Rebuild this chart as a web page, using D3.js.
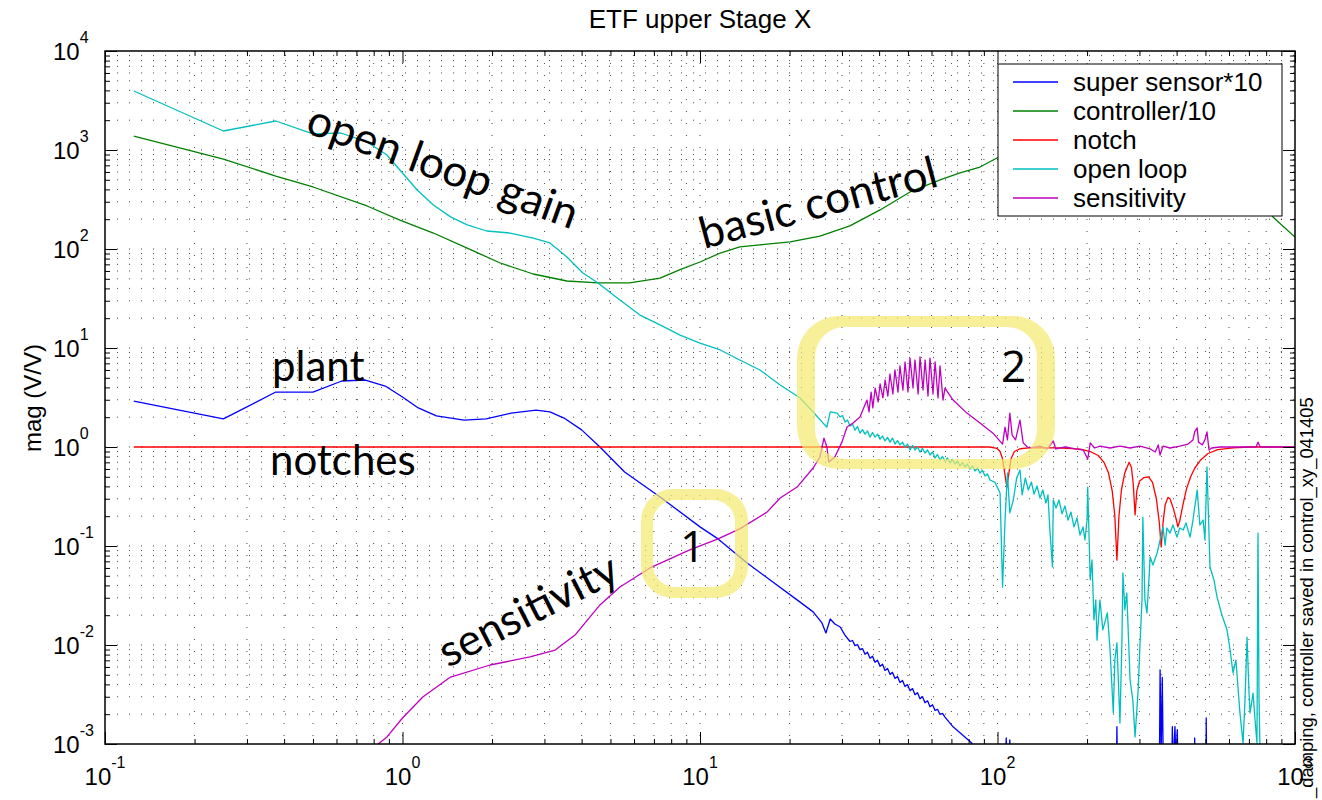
<!DOCTYPE html>
<html>
<head>
<meta charset="utf-8">
<script src="https://cdn.jsdelivr.net/npm/d3@7"></script>
<style>
  html, body { margin: 0; padding: 0; background: #fff; }
  svg { display: block; }
</style>
</head>
<body>
<svg id="chart" width="1322" height="800"></svg>
<script>
// ---- data: [frequency (Hz), magnitude (V/V)] ----
const xTickExponents = [-1, 0, 1, 2, 3];
const yTickExponents = [-3, -2, -1, 0, 1, 2, 3, 4];
const seriesNames = ["super sensor*10", "controller/10", "notch", "open loop", "sensitivity"];

const superSensor = [[0.125,2.91],[0.25,1.92],[0.375,3.59],[0.5,3.59],[0.625,4.64],[0.75,4.75],[0.875,4.13],[1.0,3.20],[1.13,2.48],[1.30,2.06],[1.61,1.87],[1.91,1.92],[2.32,2.20],[2.81,2.36],[3.13,2.26],[3.49,1.96],[4.0,1.49],[4.61,1.0],[5.58,0.559],[7.34,0.313],[10,0.156],[11.5,0.118],[14.4,0.0673],[21.7,0.0271],[24.0,0.0216],[25.7,0.0167],[26.5,0.0132],[27.4,0.0183],[28.4,0.0163],[29.6,0.0152],[30.7,0.0126],
  [31.93,0.01085],[32.55,0.01110],[33.19,0.00986],[33.84,0.01009],[34.50,0.00898],[35.17,0.00920],[35.86,0.00807],[36.56,0.00846],[37.28,0.00736],[38.01,0.00770],[38.75,0.00669],[39.51,0.00701],[40.28,0.00609],[41.07,0.00639],[41.87,0.00554],[42.69,0.00580],[43.52,0.00505],[44.37,0.00529],[45.24,0.00459],[46.12,0.00481],[47.02,0.00418],[47.94,0.00438],[48.88,0.00380],[49.83,0.00398],[50.81,0.00346],[51.80,0.00363],[52.81,0.00315],[53.84,0.00330],[54.90,0.00287],[55.97,0.00300],[57.06,0.00261],[58.18,0.00273],[59.31,0.00238],[60.47,0.00249],[61.65,0.00219],[62.86,0.00224],[64.09,0.00199],[65.34,0.00204],[66.61,0.00187],
  [70.9,0.00149],[82.1,0.00102],[84,0.0005],[106,0.0005],[107,0.00115],[108,0.0005],[110,0.0011],[111,0.0005],[251,0.0005],[252,0.0015],[253,0.0005],[350,0.0005],[352,0.0056],[355,0.0008],[358,0.0047],[361,0.0005],[385,0.0005],[387,0.0015],[389,0.0006],[395,0.0015],[398,0.0006],[402,0.0014],[405,0.0005],[459,0.0005],[460,0.00115],[461,0.0005],[502,0.0005],[503,0.00183],[505,0.0005],[1000,0.0005]];

const controller = [[0.125,1384],[0.25,811],[0.375,546],[0.5,423],[0.76,272],[0.98,196],[1.27,145],[1.65,102],[2.13,72.2],[2.75,55.9],[3.57,47.5],[4.54,45.4],[5.8,45.4],[7.34,50.9],[8.57,62],[10,73.9],[11.7,91.1],[13.6,105],[15.9,110],[20.1,118],[25.3,135],[31.9,171],[40.3,248],[50.8,377],[64.1,498],[74.8,586],[87.3,673],[99.6,830],[150,1600],[221,2260],[326,2260],[480,1700],[706,498],[843,211],[1000,132]];

const notch = [[0.125,1],[94,1],[99.6,0.97],[102,0.9],[104,0.76],[106,0.52],[107.5,0.39],[109,0.52],[111,0.76],[114,0.9],[119,0.96],[130,0.985],[160,0.98],[190,0.95],[205,0.9],[218,0.82],[228,0.7],[236,0.55],[243,0.36],[248,0.2],[252,0.072],[256,0.2],[261,0.37],[268,0.55],[277,0.70],[282,0.62],[286,0.42],[290,0.206],[294,0.36],[300,0.45],[310,0.49],[322,0.5],[332,0.44],[342,0.3],[350,0.17],[355,0.098],[360,0.17],[366,0.26],[374,0.31],[380,0.3],[390,0.24],[398,0.19],[404,0.156],[410,0.18],[420,0.26],[432,0.38],[446,0.5],[460,0.61],[480,0.73],[510,0.86],[550,0.94],[620,0.98],[700,1],[1000,1]];

const openLoop = [[0.125,3945],[0.25,1556],[0.375,1963],[0.5,1452],[0.62,1485],[0.76,1205],[0.887,890],[0.98,628],[1.12,394],[1.27,278],[1.45,211],[1.65,175],[1.92,152],[2.30,145],[2.75,129],[3.13,115],[3.57,83.0],[4.04,57.2],[4.54,45.4],[5.38,30.5],[6.28,21.5],[7.34,17.1],[8.57,13.5],[10,11.2],[11.7,9.55],[13.6,7.56],[15.9,6.0],[18.6,4.23],[21.7,3.13],[24.0,2.26],[25.9,1.75],[26.7,1.59],[27.4,2.26],[28.9,2.20],
  [29.55,2.01],[30.13,2.08],[30.72,1.79],[31.32,1.87],[31.93,1.63],[32.55,1.71],[33.19,1.48],[33.84,1.61],[34.50,1.38],[35.17,1.50],[35.86,1.35],[36.56,1.45],[37.28,1.26],[38.01,1.40],[38.75,1.26],[39.51,1.35],[40.28,1.20],[41.07,1.29],[41.87,1.15],[42.69,1.25],[43.52,1.12],[44.37,1.23],[45.24,1.07],[46.12,1.16],[47.02,1.05],[47.94,1.12],[48.88,1.0],[49.83,1.07],[50.81,0.933],[51.80,1.035],[52.81,0.933],[53.84,1.0],[54.90,0.890],[55.97,0.966],[57.06,0.870],[58.18,0.933],[59.31,0.830],[60.47,0.890],[61.65,0.774],[62.86,0.840],[64.09,0.739],[65.34,0.802],[66.61,0.722],[67.91,0.774],[69.24,0.689],[70.59,0.748],[71.97,0.674],[73.38,0.722],[74.81,0.643],[76.27,0.697],[77.76,0.628],[79.28,0.674],[80.83,0.600],[82.41,0.643],[84.02,0.572],[85.66,0.614],[87.33,0.546],[89.04,0.579],[90.78,0.510],[92.55,0.534],[94.36,0.464],
  [98,0.44],[102,0.343],[104,0.0385],[106,0.183],[108,0.546],[110,0.216],[113,0.291],[116,0.486],[119,0.586],[121,0.328],[124,0.486],[127,0.368],[130,0.443],[132.7,0.335],[135.8,0.404],[139,0.305],[142,0.368],[145.5,0.272],[147.8,0.328],[150,0.145],[153,0.0614],[154,0.291],[157.3,0.242],[161,0.291],[164.8,0.211],[168.6,0.254],[172.6,0.183],[176.6,0.220],[180.8,0.156],[185,0.192],[189.4,0.129],[193.8,0.156],[196.8,0.115],[200,0.183],[201,0.394],[205,0.0454],[207.8,0.0722],[211,0.0179],[214,0.0285],[216,0.0112],[221,0.0285],[226,0.0142],[234,0.0211],[239,0.0089],[245,0.00206],[248,0.00705],[252,0.0105],[258,0.00163],[262,0.0112],[264,0.0534],[268,0.0226],[272,0.0335],[279,0.00443],[285,0.00278],[290,0.00118],[297,0.00351],[301,0.00955],[306,0.0285],[308,0.196],[313,0.0285],[318,0.0211],[326,0.0774],[333,0.0643],[344,0.085],[352,0.115],[360,0.156],[366,0.102],[371,0.152],[380,0.135],[389,0.163],[401,0.123],[410,0.152],[421,0.145],[430,0.171],[444,0.123],[454,0.183],[469,0.368],[479,0.163],[491,0.183],[498,0.115],[506,0.628],[518,0.0614],[534,0.0454],[547,0.0305],[568,0.0201],[591,0.0142],[605,0.0089],[619,0.00521],[633,0.00705],[653,0.00206],[669,0.00102],[679,0.00278],[690,0.0120],[700,0.00351],[706,0.00206],[723,0.00327],[734,0.00175],[745,0.00102],[751,0.135],[757,0.00278],[763,0.00083]];

const sensitivity = [[0.80,0.00085],[0.828,0.001],[0.887,0.00118],[1.0,0.00183],[1.17,0.00298],[1.45,0.00475],[1.97,0.00628],[2.68,0.00757],[3.26,0.0089],[3.80,0.0126],[4.61,0.0254],[5.38,0.0385],[6.79,0.060],[9.24,0.0912],[11.5,0.118],[13.6,0.149],[16.8,0.220],[18.6,0.305],[21.2,0.394],[24.0,0.614],[25.3,0.792],[26.1,1.23],[26.7,1.0],[27.1,0.705],[28.4,0.792],[30.0,1.12],[31.2,1.59],[32.7,1.75],[34.5,2.01],[36.4,2.98],[37.0,2.26],[37.6,3.59],[38.1,2.48],[38.8,3.94],[39.7,2.85],[40.3,4.33],[41.2,3.13],[41.9,4.75],[42.8,3.27],[43.5,5.46],[44.5,3.43],[45.2,6.0],[46.3,3.59],[47.0,6.58],[48.1,3.76],[48.9,7.22],[50.0,3.59],[50.8,7.92],[52.0,3.94],[52.8,7.56],[54.1,3.43],[54.9,8.11],[56.2,3.76],[57.1,7.56],[58.4,3.27],[59.3,7.92],[60.7,3.43],[61.7,7.22],[63.1,3.13],[64.1,6.58],[65.6,2.98],[66.6,3.94],[70.9,2.98],[78.9,2.20],[87.3,1.75],[96.6,1.38],[104,1.07],[106,1.59],[108,1.18],[110,2.20],[112,1.32],[115,1.18],[119,1.87],[122,1.10],[126,1.0],[129,0.977],[139,1.02],[147,0.955],[154,1.15],[157,0.955],[169,1.0],[183,0.955],[194,0.933],[198,0.83],[201,0.756],[205,1.10],[212,0.977],[221,1.02],[239,0.977],[258,1.02],[279,0.977],[301,1.02],[326,0.955],[339,0.89],[347,1.05],[352,0.83],[360,1.02],[380,0.977],[410,1.02],[437,1.07],[454,1.18],[460,1.42],[469,1.56],[474,1.12],[488,1.05],[498,1.18],[506,1.42],[514,0.933],[525,0.977],[560,1.0],[653,1.0],[740,1.0],[751,1.12],[763,1.0],[1000,1.0]];

// ---- drawing ----
const svg = d3.select("#chart");
const FONT = "'Liberation Sans', Arial, Helvetica, sans-serif";
const HAND = "Lato, 'Open Sans', sans-serif";
const plot = { left: 105, top: 51, right: 1295, bottom: 744 };

const x = d3.scaleLog().domain([0.1, 1000]).range([plot.left, plot.right]);
const y = d3.scaleLog().domain([1e-3, 1e4]).range([plot.bottom, plot.top]);

const xMajor = xTickExponents.map(e => Math.pow(10, e));
const yMajor = yTickExponents.map(e => Math.pow(10, e));
const isMajor = (v, list) => list.some(M => Math.abs(v / M - 1) < 1e-9);
const xMinor = x.ticks().filter(v => !isMajor(v, xMajor));
const yMinor = y.ticks().filter(v => !isMajor(v, yMajor));

// dotted grid on every decade and sub-decade
const grid = svg.append("g")
  .attr("stroke", "#1a1a1a").attr("stroke-width", 1)
  .attr("stroke-dasharray", "1,11").attr("stroke-opacity", 0.8);
x.ticks().filter(v => v > 0.1 && v < 1000).forEach(v => {
  grid.append("line").attr("x1", x(v)).attr("x2", x(v))
    .attr("y1", plot.top).attr("y2", plot.bottom);
});
y.ticks().filter(v => v > 1e-3 && v < 1e4).forEach(v => {
  grid.append("line").attr("y1", y(v)).attr("y2", y(v))
    .attr("x1", plot.left).attr("x2", plot.right);
});

// traces
svg.append("clipPath").attr("id", "plotClip").append("rect")
  .attr("x", plot.left).attr("y", plot.top)
  .attr("width", plot.right - plot.left).attr("height", plot.bottom - plot.top);

const line = d3.line().x(d => x(d[0])).y(d => y(d[1]));
const traces = [
  { data: superSensor, color: "#0000ff" },
  { data: controller, color: "#008000" },
  { data: notch, color: "#ff0000" },
  { data: openLoop, color: "#00bfbf" },
  { data: sensitivity, color: "#bf00bf" }
];
const traceG = svg.append("g").attr("clip-path", "url(#plotClip)");
traces.forEach(t => {
  traceG.append("path").datum(t.data)
    .attr("fill", "none").attr("stroke", t.color)
    .attr("stroke-width", 1.3).attr("stroke-linejoin", "round")
    .attr("d", line);
});

// axes with inward ticks on all four sides
function addAxis(axisFn, scale, values, size, transform) {
  const g = svg.append("g").attr("transform", transform)
    .call(axisFn(scale).tickValues(values).tickSize(-size).tickFormat(""));
  g.select(".domain").remove();
  g.selectAll(".tick line").attr("stroke", "#000").attr("stroke-width", 1);
}
[[xMajor, 12], [xMinor, 5]].forEach(([vals, s]) => {
  addAxis(d3.axisBottom, x, vals, s, `translate(0,${plot.bottom})`);
  addAxis(d3.axisTop, x, vals, s, `translate(0,${plot.top})`);
});
[[yMajor, 12], [yMinor, 5]].forEach(([vals, s]) => {
  addAxis(d3.axisLeft, y, vals, s, `translate(${plot.left},0)`);
  addAxis(d3.axisRight, y, vals, s, `translate(${plot.right},0)`);
});
svg.append("rect")
  .attr("x", plot.left).attr("y", plot.top)
  .attr("width", plot.right - plot.left).attr("height", plot.bottom - plot.top)
  .attr("fill", "none").attr("stroke", "#000").attr("stroke-width", 1.5);

// tick labels as 10 with superscript exponent
xTickExponents.forEach(e => {
  const t = svg.append("text").attr("x", x(Math.pow(10, e))).attr("y", 785)
    .attr("text-anchor", "middle").attr("font-family", FONT).attr("font-size", 24);
  t.append("tspan").text("10");
  t.append("tspan").attr("dy", -17).attr("font-size", 16).text(e);
});
yTickExponents.forEach(e => {
  const t = svg.append("text").attr("x", 53).attr("y", y(Math.pow(10, e)) + 9)
    .attr("font-family", FONT).attr("font-size", 24);
  t.append("tspan").text("10");
  t.append("tspan").attr("dy", -17).attr("font-size", 16).text(e);
});

// title, axis label, side note
svg.append("text").attr("x", 700).attr("y", 28).attr("text-anchor", "middle")
  .attr("font-family", FONT).attr("font-size", 26).text("ETF upper Stage X");
svg.append("text").attr("transform", "translate(41,398) rotate(-90)")
  .attr("text-anchor", "middle").attr("font-family", FONT).attr("font-size", 24)
  .text("mag (V/V)");
svg.append("text").attr("transform", "translate(1313,798) rotate(-90)")
  .attr("font-family", FONT).attr("font-size", 18.4)
  .text("_damping, controller saved in control_xy_041405");

// legend
const leg = svg.append("g");
leg.append("rect").attr("x", 998).attr("y", 64).attr("width", 284).attr("height", 152)
  .attr("fill", "#fff").attr("stroke", "#000").attr("stroke-width", 1);
seriesNames.forEach((name, i) => {
  const cy = 82 + i * 29;
  leg.append("line").attr("x1", 1013).attr("x2", 1058).attr("y1", cy).attr("y2", cy)
    .attr("stroke", traces[i].color).attr("stroke-width", 1.3);
  leg.append("text").attr("x", 1073).attr("y", cy + 9)
    .attr("font-family", FONT).attr("font-size", 26).text(name);
});

// highlight rings
function ringPath(o, i) {
  const p = d3.path();
  const rr = (x0, y0, x1, y1, r, ccw) => {
    if (!ccw) {
      p.moveTo(x0 + r, y0); p.lineTo(x1 - r, y0); p.arcTo(x1, y0, x1, y0 + r, r);
      p.lineTo(x1, y1 - r); p.arcTo(x1, y1, x1 - r, y1, r);
      p.lineTo(x0 + r, y1); p.arcTo(x0, y1, x0, y1 - r, r);
      p.lineTo(x0, y0 + r); p.arcTo(x0, y0, x0 + r, y0, r); p.closePath();
    } else {
      p.moveTo(x0 + r, y0); p.arcTo(x0, y0, x0, y0 + r, r);
      p.lineTo(x0, y1 - r); p.arcTo(x0, y1, x0 + r, y1, r);
      p.lineTo(x1 - r, y1); p.arcTo(x1, y1, x1, y1 - r, r);
      p.lineTo(x1, y0 + r); p.arcTo(x1, y0, x1 - r, y0, r); p.closePath();
    }
  };
  rr(...o, false); rr(...i, true);
  return p.toString();
}
const rings = svg.append("g").attr("fill", "#f5ea6e").attr("fill-opacity", 0.7);
rings.append("path").attr("d", ringPath([641, 489, 748, 598, 32], [653, 500, 735, 587, 22]));
rings.append("path").attr("d", ringPath([797, 316, 1055, 469, 42], [815, 327, 1037, 459, 30]));

// hand-written notes
const notes = [
  { text: "open loop gain", x: 304, y: 132, a: 20, s: 44, f: HAND },
  { text: "basic control", x: 704, y: 249, a: -15, s: 44, f: HAND },
  { text: "plant", x: 272, y: 381, a: 0, s: 42, f: HAND },
  { text: "notches", x: 270, y: 475, a: 0, s: 42, f: HAND },
  { text: "sensitivity", x: 448, y: 668, a: -27, s: 44, f: HAND },
  { text: "1", x: 680, y: 562, a: 0, s: 44, f: "'Open Sans', sans-serif" },
  { text: "2", x: 1001, y: 382, a: 0, s: 44, f: "'Open Sans', sans-serif" }
];
notes.forEach(n => {
  svg.append("text").attr("transform", `translate(${n.x},${n.y}) rotate(${n.a})`)
    .attr("font-family", n.f).attr("font-size", n.s).attr("fill", "#000")
    .text(n.text);
});
</script>
</body>
</html>
